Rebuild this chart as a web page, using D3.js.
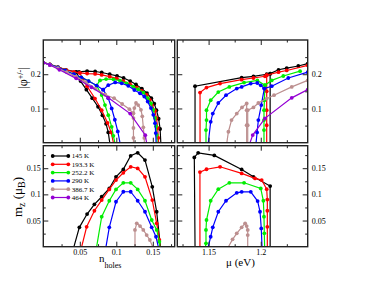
<!DOCTYPE html>
<html><head><meta charset="utf-8">
<script src="https://cdn.jsdelivr.net/npm/d3@7"></script>
<style>body{margin:0;background:#fff}svg{display:block}text{font-family:"Liberation Serif","Times New Roman",serif;fill:#000}</style>
</head><body><svg id="c" width="376" height="291"></svg>
<script>
// ---------- data ----------
const temperatures = ["145 K","193.3 K","252.2 K","290 K","386.7 K","464 K"];
const seriesColors = ["#000000","#ff0000","#00ee00","#0000ff","#bc8f8f","#9400d3"];

// |phi| vs n_holes (top-left), each temperature: list of branches [n, phi]
const phiN_145 = [
  [[0,0.234],[0.009,0.229],[0.02,0.221],[0.031,0.213],[0.045,0.207],[0.049,0.207],[0.060,0.209],[0.071,0.208],[0.080,0.205],[0.091,0.200],[0.101,0.195],[0.110,0.189],[0.119,0.180],[0.127,0.170],[0.135,0.158],[0.142,0.145],[0.148,0.13],[0.152,0.114],[0.155,0.095],[0.158,0.07],[0.160,0.04],[0.161,0]],
  [[0.045,0.207],[0.051,0.18],[0.059,0.155],[0.067,0.13],[0.075,0.105],[0.081,0.08],[0.086,0.055],[0.089,0.03],[0.091,0]]
];
const phiN_193 = [
  [[0,0.234],[0.009,0.229],[0.02,0.221],[0.031,0.213],[0.042,0.207],[0.05,0.204],[0.060,0.202],[0.071,0.201],[0.080,0.198],[0.091,0.193],[0.1005,0.188],[0.1096,0.180],[0.1188,0.171],[0.128,0.161],[0.1348,0.151],[0.1416,0.1395],[0.146,0.125],[0.149,0.110],[0.153,0.093],[0.155,0.072],[0.1567,0.043],[0.1575,0.014],[0.158,0]],
  [[0.05,0.204],[0.054,0.186],[0.060,0.165],[0.0708,0.129],[0.080,0.095],[0.088,0.058],[0.093,0.03],[0.096,0]]
];
const phiN_252 = [
  [[0,0.234],[0.009,0.228],[0.02,0.220],[0.03,0.211],[0.042,0.200],[0.052,0.191],[0.062,0.180],[0.073,0.167],[0.0777,0.182],[0.086,0.186],[0.096,0.185],[0.105,0.181],[0.114,0.1735],[0.123,0.164],[0.13,0.156],[0.137,0.1465],[0.143,0.13],[0.1475,0.115],[0.1507,0.096],[0.153,0.072],[0.1544,0.048],[0.1553,0.023],[0.156,0]],
  [[0.073,0.167],[0.080,0.139],[0.0845,0.11],[0.089,0.0805],[0.0937,0.0465],[0.096,0.02],[0.098,0]]
];
const phiN_290 = [
  [[0,0.234],[0.009,0.228],[0.02,0.220],[0.03,0.211],[0.042,0.200],[0.052,0.191],[0.062,0.180],[0.073,0.167],[0.082,0.155],[0.089,0.168],[0.0985,0.176],[0.1074,0.1735],[0.1164,0.166],[0.1247,0.154],[0.1325,0.1445],[0.1384,0.135],[0.143,0.120],[0.1475,0.101],[0.1507,0.0814],[0.153,0.057],[0.154,0.028],[0.1545,0]],
  [[0.082,0.155],[0.089,0.13],[0.0937,0.1],[0.098,0.067],[0.102,0.033],[0.105,0]]
];
const phiN_387 = [
  [[0,0.234],[0.009,0.227],[0.02,0.218],[0.032,0.206],[0.045,0.193],[0.058,0.177],[0.071,0.158],[0.085,0.14],[0.097,0.13],[0.108,0.113],[0.118,0.098],[0.123,0.086],[0.1235,0.072],[0.1235,0.043],[0.1235,0.014],[0.1235,0]],
  [[0.1384,0],[0.1384,0.014],[0.137,0.045],[0.1356,0.077],[0.1338,0.096],[0.130,0.110],[0.127,0.116],[0.1247,0.101],[0.1235,0.086]]
];
const phiN_464 = [
  [[0,0.234],[0.009,0.227],[0.022,0.213],[0.045,0.188],[0.066,0.162],[0.089,0.131],[0.119,0.085],[0.1397,0.022],[0.1415,0]]
];

// |phi| vs mu (top-right)
const phiMu_145 = [
  [[1.137,0],[1.137,0.165],[1.1817,0.19],[1.193,0.194],[1.2057,0.2],[1.209,0.2017],[1.217,0.213],[1.2249,0.218],[1.236,0.224],[1.245,0.231]],
  [[1.209,0],[1.209,0.2017]]
];
const phiMu_193 = [
  [[1.1418,0],[1.1418,0.1465],[1.148,0.161],[1.161,0.1727],[1.1817,0.184],[1.193,0.189],[1.204,0.194],[1.2057,0.197],[1.217,0.206],[1.2249,0.211],[1.245,0.226]],
  [[1.2057,0],[1.2057,0.051],[1.2057,0.095],[1.2057,0.15],[1.2057,0.197]]
];
const phiMu_252 = [
  [[1.1475,0],[1.1475,0.037],[1.148,0.066],[1.148,0.095],[1.152,0.124],[1.1593,0.148],[1.1699,0.163],[1.184,0.1756],[1.1967,0.182],[1.204,0.168],[1.2105,0.182],[1.2216,0.1948],[1.2377,0.209]],
  [[1.2031,0],[1.2031,0.037],[1.2031,0.066],[1.2031,0.095],[1.2035,0.124],[1.204,0.168]]
];
const phiMu_290 = [
  [[1.1497,0],[1.152,0.061],[1.154,0.085],[1.1593,0.116],[1.1667,0.1387],[1.177,0.158],[1.1817,0.163],[1.1904,0.1727],[1.1967,0.1744],[1.2,0.1677],[1.2034,0.158],[1.2105,0.165],[1.2264,0.189],[1.245,0.206]],
  [[1.1955,0],[1.1965,0.03],[1.1977,0.066],[1.2005,0.11],[1.2034,0.158]]
];
const phiMu_387 = [
  [[1.1675,0],[1.169,0.032],[1.172,0.066],[1.177,0.085],[1.182,0.103],[1.1865,0.1145],[1.1865,0.095],[1.1865,0.051],[1.1865,0]],
  [[1.1875,0],[1.1875,0.051],[1.1875,0.095],[1.193,0.103],[1.1977,0.116],[1.2057,0.129],[1.2127,0.1387],[1.2297,0.163],[1.245,0.182]]
];
const phiMu_464 = [
  [[1.1897,0],[1.1923,0.0224],[1.204,0.071],[1.2297,0.131],[1.245,0.155]]
];

// m_z vs n_holes (bottom-left)
const mzN_145 = [[[0.042,0],[0.0494,0.037],[0.060,0.0624],[0.070,0.081],[0.080,0.0955],[0.0904,0.1113],[0.0996,0.1336],[0.1096,0.1477],[0.1197,0.1737],[0.1293,0.1794],[0.1393,0.1655],[0.1493,0.1145],[0.1553,0.0668],[0.1605,0]]];
const mzN_193 = [[[0.0526,0],[0.0594,0.038],[0.070,0.0687],[0.080,0.089],[0.0904,0.1095],[0.0996,0.1273],[0.1096,0.1412],[0.1197,0.1527],[0.1293,0.1496],[0.1393,0.1336],[0.1493,0.089],[0.1553,0.0447],[0.159,0.0128],[0.1598,0]]];
const mzN_252 = [[[0.0731,0],[0.080,0.0573],[0.0904,0.0878],[0.0996,0.1095],[0.1096,0.1221],[0.1197,0.1221],[0.1293,0.1095],[0.1393,0.0878],[0.1485,0.051],[0.1553,0.032],[0.159,0.0095],[0.1598,0]]];
const mzN_290 = [[[0.0859,0],[0.0904,0.037],[0.0996,0.0859],[0.1096,0.105],[0.1197,0.105],[0.1293,0.0878],[0.1393,0.0668],[0.1485,0.037],[0.1544,0.019],[0.1575,0]]];
const mzN_387 = [[[0.1256,0],[0.1256,0.032],[0.128,0.0447],[0.1325,0.0395],[0.137,0.032],[0.1416,0.0223],[0.146,0.0128],[0.1498,0]]];
const mzN_464 = [];

// m_z vs mu (bottom-right)
const mzMu_145 = [[[1.137,0],[1.1363,0.1706],[1.140,0.1794],[1.1555,0.1744],[1.1817,0.1477],[1.193,0.1336],[1.209,0.1158],[1.209,0]]];
const mzMu_193 = [[[1.1417,0],[1.1417,0.1426],[1.148,0.148],[1.161,0.1527],[1.1817,0.14],[1.1945,0.1305],[1.2009,0.1273],[1.2057,0.110],[1.2063,0.090],[1.2063,0.0687],[1.2063,0.038],[1.2063,0]]];
const mzMu_252 = [[[1.147,0],[1.1475,0.0065],[1.1475,0.032],[1.148,0.051],[1.152,0.0878],[1.1593,0.110],[1.1699,0.1221],[1.184,0.1221],[1.2,0.1114],[1.2025,0.0878],[1.2031,0.0573],[1.2034,0.0256],[1.2037,0]]];
const mzMu_290 = [[[1.1497,0],[1.152,0.019],[1.154,0.037],[1.1593,0.0668],[1.1667,0.0878],[1.177,0.103],[1.1817,0.1049],[1.1904,0.1049],[1.197,0.0872],[1.1993,0.0668],[1.2005,0.035],[1.2012,0]]];
const mzMu_387 = [[[1.169,0],[1.173,0.014],[1.177,0.0256],[1.1817,0.037],[1.185,0.0447],[1.1865,0.0395],[1.1875,0.032],[1.1875,0.0223],[1.1875,0]]];
const mzMu_464 = [];

// ticks
const nTicks = [0.05,0.1,0.15];
const nMinor = [0.025,0.075,0.125,0.175];
const muTicks = [1.15,1.2];
const muMinor = [1.125,1.175,1.225];
const phiTicks = [0.1,0.2];
const phiMinor = [0.05,0.15,0.25];
const mzTicks = [0.05,0.1,0.15];
const mzMinor = [0.025,0.075,0.125,0.175];

// ---------- drawing ----------
const svg = d3.select("#c");
const xN = d3.scaleLinear([0,0.18],[43.3,174.7]);
const xMu = d3.scaleLinear([1.12,1.245],[177.3,307.7]);
const yPhi = d3.scaleLinear([0,0.3],[142.7,40]);
const yMz = d3.scaleLinear([0,0.193],[246.7,145.7]);

const panels = [
  {id:"tl", x:xN, y:yPhi, data:[phiN_145,phiN_193,phiN_252,phiN_290,phiN_387,phiN_464], xt:nTicks, xm:nMinor, yt:phiTicks, ym:phiMinor, xlab:false, ylabSide:"left"},
  {id:"tr", x:xMu, y:yPhi, data:[phiMu_145,phiMu_193,phiMu_252,phiMu_290,phiMu_387,phiMu_464], xt:muTicks, xm:muMinor, yt:phiTicks, ym:phiMinor, xlab:false, ylabSide:"right"},
  {id:"bl", x:xN, y:yMz, data:[mzN_145,mzN_193,mzN_252,mzN_290,mzN_387,mzN_464], xt:nTicks, xm:nMinor, yt:mzTicks, ym:mzMinor, xlab:true, ylabSide:"left"},
  {id:"br", x:xMu, y:yMz, data:[mzMu_145,mzMu_193,mzMu_252,mzMu_290,mzMu_387,mzMu_464], xt:muTicks, xm:muMinor, yt:mzTicks, ym:mzMinor, xlab:true, ylabSide:"right"}
];
const fmt = d => String(+d.toFixed(3));
const frameColor = "#222";

panels.forEach(p => {
  const [x0,x1] = p.x.range(), [y1,y0] = p.y.range();
  const g = svg.append("g");
  g.append("clipPath").attr("id","clip-"+p.id).append("rect")
    .attr("x",x0).attr("y",y0).attr("width",x1-x0).attr("height",y1-y0);
  const plot = g.append("g").attr("clip-path","url(#clip-"+p.id+")");
  const line = d3.line().x(d=>p.x(d[0])).y(d=>p.y(d[1]));
  p.data.forEach((branches,i) => {
    branches.forEach(br => {
      plot.append("path").attr("d",line(br)).attr("fill","none")
        .attr("stroke",seriesColors[i]).attr("stroke-width",1.2);
      plot.selectAll(null).data(br.filter(d=>d[1]>0.003)).enter().append("circle")
        .attr("cx",d=>p.x(d[0])).attr("cy",d=>p.y(d[1])).attr("r",1.9)
        .attr("fill",seriesColors[i]);
    });
  });
  // axes with inward ticks
  const mk = (axis, tr, vals, size, labels, pad) => {
    const a = g.append("g").attr("transform",tr)
      .call(axis.tickValues(vals).tickSize(size).tickPadding(pad||3).tickFormat(labels?fmt:""));
    a.select(".domain").remove();
    a.selectAll("line").attr("stroke",frameColor).attr("stroke-width",1);
    a.attr("font-family",null).attr("font-size",null);
    a.selectAll("text").style("font-size","8px").style("font-family","'Liberation Serif','Times New Roman',serif");
    return a;
  };
  mk(d3.axisBottom(p.x), `translate(0,${y1})`, p.xt, -5, p.xlab, 3);
  mk(d3.axisBottom(p.x), `translate(0,${y1})`, p.xm, -2.5, false);
  mk(d3.axisTop(p.x), `translate(0,${y0})`, p.xt, -5, false);
  mk(d3.axisTop(p.x), `translate(0,${y0})`, p.xm, -2.5, false);
  mk(d3.axisLeft(p.y), `translate(${x0},0)`, p.yt, -5, p.ylabSide==="left", 2.5);
  mk(d3.axisLeft(p.y), `translate(${x0},0)`, p.ym, -2.5, false);
  mk(d3.axisRight(p.y), `translate(${x1},0)`, p.yt, -5, p.ylabSide==="right", 4);
  mk(d3.axisRight(p.y), `translate(${x1},0)`, p.ym, -2.5, false);
  g.append("rect").attr("x",x0).attr("y",y0).attr("width",x1-x0).attr("height",y1-y0)
    .attr("fill","none").attr("stroke",frameColor).attr("stroke-width",1.4);
});

// legend
const leg = svg.append("g");
temperatures.forEach((t,i) => {
  const yy = 156 + i*8.3;
  leg.append("line").attr("x1",52.7).attr("x2",68.3).attr("y1",yy).attr("y2",yy)
    .attr("stroke",seriesColors[i]).attr("stroke-width",1.2);
  [52.7,68.3].forEach(cx => leg.append("circle").attr("cx",cx).attr("cy",yy).attr("r",1.9).attr("fill",seriesColors[i]));
  leg.append("text").attr("x",71.7).attr("y",yy).attr("dy","0.35em").style("font-size","7px").text(t);
});

// axis titles
const t1 = svg.append("text").attr("transform","translate(27,78) rotate(-90)").attr("text-anchor","middle").style("font-size","12px");
t1.append("tspan").text("|φ");
t1.append("tspan").attr("dy",-4.5).style("font-size","8px").text("+/-");
t1.append("tspan").attr("dy",4.5).text("|");

const t2 = svg.append("text").attr("transform","translate(22,197) rotate(-90)").attr("text-anchor","middle").style("font-size","13px");
t2.append("tspan").text("m");
t2.append("tspan").attr("dy",3).style("font-size","10px").text("z");
t2.append("tspan").attr("dy",-3).text(" (μ");
t2.append("tspan").attr("dy",3).style("font-size","10px").text("B");
t2.append("tspan").attr("dy",-3).text(")");

const t3 = svg.append("text").attr("x",99).attr("y",261.5).style("font-size","11px");
t3.append("tspan").text("n");
t3.append("tspan").attr("dy",6).style("font-size","8px").text("holes");

svg.append("text").attr("x",226).attr("y",266).style("font-size","11px").text("μ (eV)");
</script></body></html>
